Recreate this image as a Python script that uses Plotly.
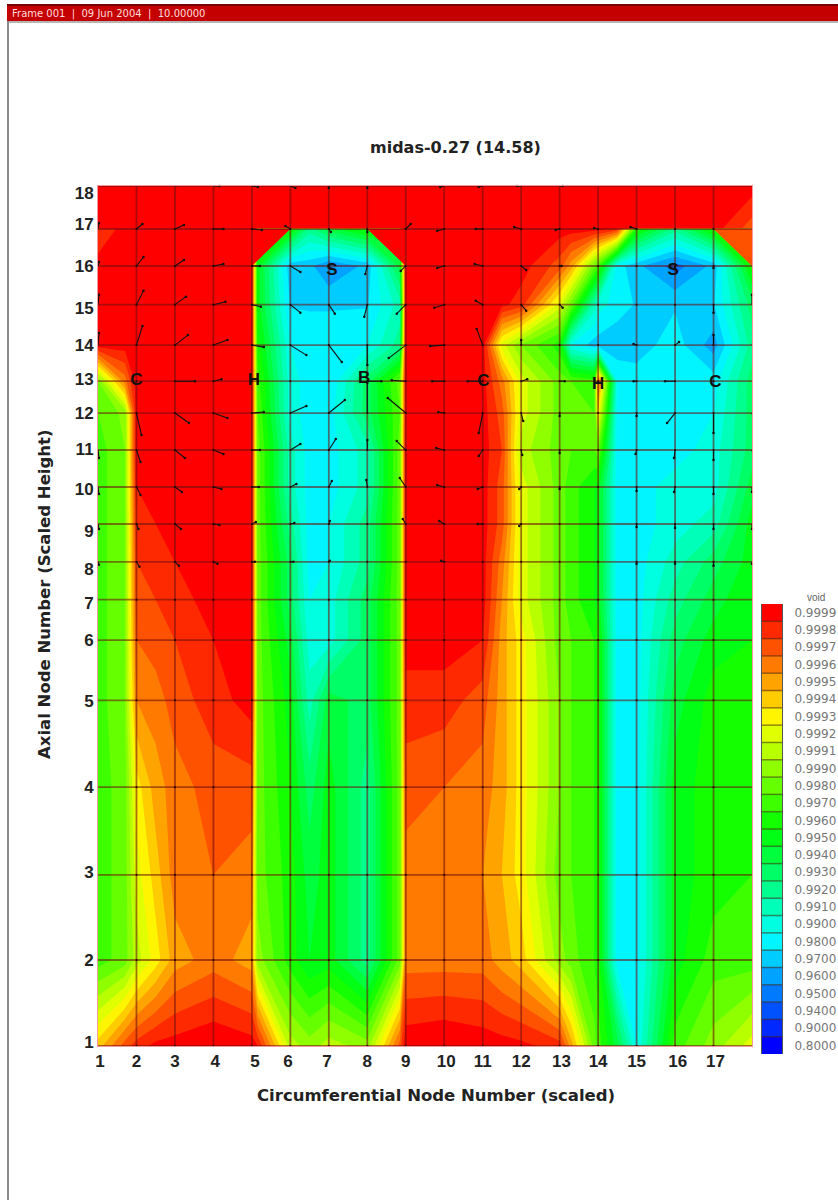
import colorsys
import numpy as np
import plotly.graph_objects as go

# ---------- data ----------
void_levels = [0.8000, 0.9000, 0.9400, 0.9500, 0.9600, 0.9700, 0.9800, 0.9900, 0.9910, 0.9920,
               0.9930, 0.9940, 0.9950, 0.9960, 0.9970, 0.9980, 0.9990, 0.9991, 0.9992, 0.9993,
               0.9994, 0.9995, 0.9996, 0.9997, 0.9998, 0.9999]
# circumferential positions of the contour nodes
node_x = [1, 1.7, 2, 2.5, 3, 4, 5, 5.15, 6, 6.5, 7, 8, 8.85, 9, 10, 11, 11.5, 12, 13, 13.3, 13.9, 14, 14.5, 15, 16, 17, 18]
# scaled height of every axial node (17 appears twice: the wall above the node is a step)
node_h = [0, .1, .199, .301, .402, .472, .519, .563, .607, .65, .693, .736, .773, .815, .862, .907, .95, .9512, 1.0]
# void deficit, (1 - void) * 10^4, bottom row first
deficit = [
 [6, 3, 2, 1.2, 1, .5, 1, 1.5, 9, 10, 9, 10, 3, .7, .4, .8, 1, 1.2, 2, 5, 20, 30, 60, 150, 30, 10, 8],
 [30, 20, 9, 7, 5, 4, 5, 10, 40, 55, 50, 80, 20, 4, 4, 4, 5, 6, 10, 20, 35, 40, 200, 200, 50, 30, 30],
 [30, 20, 8, 6, 4, 3.5, 4, 20, 40, 60, 50, 80, 20, 4, 4, 4.5, 5.5, 7, 20, 25, 35, 40, 200, 200, 50, 40, 35],
 [30, 20, 7, 5, 4, 3, 3, 20, 45, 70, 50, 80, 20, 3, 3.5, 4, 5, 7, 15, 25, 35, 40, 200, 200, 50, 40, 35],
 [30, 15, 4.5, 4, 3, 2, 1, 20, 50, 90, 60, 70, 20, 2, 2, 3, 5, 7, 15, 25, 35, 40, 200, 200, 60, 40, 40],
 [30, 15, 3.5, 3, 2.5, 1.5, 1, 20, 60, 100, 100, 70, 20, 1, 1, 1.5, 5, 7, 20, 25, 35, 40, 200, 200, 70, 50, 45],
 [30, 15, 3, 2.5, 2, 1, 1, 20, 70, 150, 100, 70, 20, 1, 1, 1, 4.5, 8, 20, 30, 45, 50, 200, 200, 80, 60, 45],
 [30, 15, 2.5, 2, 1.5, 1, 1, 20, 70, 200, 150, 80, 20, 1, 1, 1, 4, 8, 20, 30, 45, 50, 200, 200, 90, 70, 50],
 [30, 15, 2, 1.5, 1, 1, 1, 20, 80, 200, 150, 80, 20, 1, 1, 1, 3, 8, 20, 30, 45, 50, 200, 200, 100, 90, 50],
 [30, 15, 1.5, 1, 1, 1, 1, 20, 90, 200, 200, 90, 20, 1, 1, 1, 3, 8, 20, 30, 45, 50, 200, 200, 100, 100, 60],
 [30, 15, 1, 1, 1, 1, 1, 20, 90, 200, 200, 90, 20, 1, 1, 1, 2.5, 9, 20, 25, 25, 20, 200, 200, 200, 100, 70],
 [25, 12, 1, 1, 1, 1, 1, 25, 100, 200, 200, 70, 25, 1, 1, 1, 3, 8, 20, 25, 25, 7, 200, 200, 200, 150, 70],
 [15, 4, 1, 1, 1, 1, 1, 30, 100, 200, 250, 70, 20, 1, 1, 1, 4, 8, 20, 25, 30, 3, 150, 200, 200, 200, 70],
 [1, 1, 1, 1, 1, 1, 1, 40, 150, 200, 200, 150, 80, 1, 1, 1, 8, 15, 40, 150, 300, 300, 320, 300, 200, 400, 80],
 [1, 1, 1, 1, 1, 1, 1, 50, 260, 260, 260, 260, 90, 1, 1, 1, 1.2, 2, 8, 20, 90, 100, 200, 260, 260, 260, 70],
 [1, 1, 1, 1, 1, 1, 1, 50, 320, 320, 450, 320, 60, 1, 1, 1, 1, 1, 3, 5, 20, 30, 200, 320, 500, 320, 40],
 [2.5, 1, 1, 1, 1, 1, 1, 50, 40, 80, 60, 40, 50, 1, 1, 1, 1, 1, 1, 1, 1, 1, 2, 40, 80, 40, 40],
 [1, 1, 1, 1, 1, 1, 1, 1, 1, 1, 1, 1, 1, 1, 1, 1, 1, 1, 1, 1, 1, 1, 1, 1, 1, 1, 3],
 [1, 1, 1, 1, 1, 1, 1, 1, 1, 1, 1, 1, 1, 1, 1, 1, 1, 1, 1, 1, 1, 1, 1, 1, 1, 1, 1],
]
# cut-off dome corners (column, scaled height, band index of the wall behind)
corner_x = [[5, 6, 5], [9, 8, 9], [17, 18, 18]]
corner_h = [[.907, .95, .95], [.907, .95, .95], [.95, .907, .95]]
corner_band = [25, 25, 23]

# grid lines
grid_cols = list(range(2, 18))
grid_rows = list(range(1, 19))
row_h = [0, .1, .199, .301, .402, .472, .519, .563, .607, .65, .693, .736, .773, .815, .862, .907, .95, 1.0]

# tick labels
x_tick_labels = [str(i) for i in range(1, 18)]
x_tick_pos = [1.05, 2, 3, 4.05, 5.08, 5.94, 6.95, 8, 9, 10.05, 11, 12, 13.05, 14, 15, 16.07, 17.05]
y_tick_labels = [str(i) for i in range(1, 19)]
y_tick_pos = [.005, .1, .202, .301, .401, .472, .515, .555, .599, .648, .694, .736, .776, .815, .858, .907, .956, .992]

# site labels
site_text = ["C", "H", "B", "C", "H", "C", "S", "S"]
site_x = [2.0, 5.05, 7.92, 11.02, 14.0, 17.05, 7.08, 15.95]
site_h = [.773, .774, .776, .772, .769, .771, .901, .902]

# velocity vectors: column, row, u, v
arrows = [
 (2,18,2,4),(3,18,6,1),(4,18,6,0),(5,18,6,-1),(6,18,5,-2),(7,18,0,-2),(8,18,0,-2),(9,18,3,3),(10,18,-4,-1),(11,18,-4,-1),(12,18,-4,0),(13,18,3,0),
 (1,17,1,6),(2,17,6,5),(3,17,9,4),(4,17,10,0),(5,17,10,-1),(6,17,-5,3),(7,17,2,-3),(8,17,0,-3),(9,17,5,5),(10,17,-7,-2),(11,17,-7,0),(12,17,-7,2),(13,17,-4,-1),(14,17,-4,1),(15,17,-6,2),
 (1,16,1,4),(2,16,7,9),(3,16,9,6),(4,16,10,2),(5,16,8,0),(6,16,10,-6),(7,16,2,-3),(8,16,-2,-8),(9,16,-5,-5),(10,16,-7,-2),(11,16,-8,2),(12,16,5,-4),(13,16,2,0),(16,16,0,-2),(17,16,0,-2),
 (1,15,1,10),(2,15,7,14),(3,15,11,8),(4,15,12,3),(5,15,9,-2),(6,15,10,-8),(7,15,6,-9),(8,15,-3,-12),(9,15,-9,-9),(10,15,-10,-3),(11,15,-7,4),(12,15,5,-6),(13,15,3,-3),(17,15,0,-8),(18,15,0,10),
 (1,14,1,12),(2,14,6,19),(3,14,13,10),(4,14,14,5),(5,14,12,-2),(6,14,16,-10),(7,14,13,-17),(8,14,0,-20),(9,14,-17,-13),(10,14,-14,-1),(11,14,-6,16),(12,14,0,5),(15,14,-3,1),(16,14,4,3),(17,14,0,10),(18,14,3,8),
 (3,13,20,0),(4,13,8,2),(8,13,14,0),(9,13,-14,1),(10,13,-12,0),(11,13,-15,0),(12,13,6,2),(13,13,5,0),(15,13,-3,0),(16,13,-10,0),
 (2,12,5,-22),(3,12,14,-10),(4,12,14,-5),(5,12,12,1),(6,12,16,7),(7,12,16,13),(8,12,0,30),(9,12,-18,15),(10,12,-6,1),(11,12,-4,-20),(12,12,2,-8),(13,12,0,-3),(15,12,0,-3),(16,12,-8,-10),(17,12,0,-20),(18,12,3,-12),
 (1,11,1,-8),(2,11,4,-12),(3,11,10,-8),(4,11,10,-4),(5,11,8,0),(6,11,10,6),(7,11,7,11),(8,11,0,10),(9,11,-9,9),(10,11,-8,2),(11,11,-4,-6),(12,11,1,-5),(13,11,0,-3),(15,11,-1,-4),(16,11,-1,-8),(17,11,0,-10),(18,11,1,-5),
 (1,10,1,-7),(2,10,4,-8),(3,10,7,-5),(4,10,8,-2),(5,10,7,0),(6,10,6,3),(7,10,3,6),(8,10,-1,7),(9,10,-6,9),(10,10,-7,2),(11,10,-5,-2),(12,10,-2,-2),(13,10,0,-2),(15,10,0,-4),(16,10,-1,-5),(17,10,0,-7),(18,10,0,-5),
 (1,9,1,-5),(2,9,2,-5),(3,9,6,-5),(4,9,6,-1),(5,9,4,2),(6,9,4,1),(7,9,1,3),(9,9,-3,5),(10,9,-5,3),(11,9,-5,0),(12,9,-2,-2),(15,9,0,-3),(16,9,0,-4),(17,9,0,-5),(18,9,0,-5),
 (1,8,1,-3),(2,8,3,-5),(3,8,4,-4),(4,8,4,-2),(5,8,3,0),(6,8,3,0),(7,8,1,1),(10,8,-3,1),(15,8,0,-2),(16,8,0,-2),(17,8,0,-4),(18,8,0,-2),
]

level_labels = [f"{v:.4f}" for v in void_levels]
title_text = "midas-0.27 (14.58)"
x_title = "Circumferential Node Number (scaled)"
y_title = "Axial Node Number (Scaled Height)"
frame_text = "Frame 001  |  09 Jun 2004  |  10.00000"

# ---------- geometry of the page ----------
W, H = 838, 1200
L, R, T, B = 98, 752, 186, 1046
px = lambda v: v / W
py = lambda v: 1 - v / H

# ---------- colours ----------
n_band = len(void_levels)
def band_colour(i):
    r, g, b = colorsys.hsv_to_rgb((240 - i * 240 / (n_band - 1)) / 360, 1, 1)
    return f"rgb({round(r*255)},{round(g*255)},{round(b*255)})"
colorscale = []
for i in range(n_band):
    colorscale += [[i / n_band, band_colour(i)], [(i + 1) / n_band, band_colour(i)]]

void = 1 - np.array(deficit, dtype=float) * 1e-4
band_z = np.interp(void, void_levels + [1.0], np.arange(n_band + 1))

fig = go.Figure()
fig.add_trace(go.Contour(
    x=node_x, y=node_h, z=band_z,
    contours=dict(start=0.5, end=n_band - 1.5, size=1, coloring="fill", showlines=False),
    colorscale=colorscale, line=dict(width=0, smoothing=0), showscale=False, hoverinfo="skip",
))
for cx, ch, cb in zip(corner_x, corner_h, corner_band):
    fig.add_trace(go.Scatter(x=cx, y=ch, mode="lines", fill="toself", fillcolor=band_colour(cb),
                             line=dict(width=0), hoverinfo="skip", showlegend=False))

# mesh lines
grid_colour = "rgba(110,15,15,0.58)"
for c in grid_cols:
    fig.add_trace(go.Scatter(x=[c, c], y=[0, 1], mode="lines", line=dict(color=grid_colour, width=1.8),
                             hoverinfo="skip", showlegend=False))
for r in grid_rows:
    h = row_h[r - 1]
    end = 18.2 if r == 13 else 18
    fig.add_trace(go.Scatter(x=[1, end], y=[h, h], mode="lines", cliponaxis=False,
                             line=dict(color=grid_colour, width=1.8),
                             hoverinfo="skip", showlegend=False))

# node dots
gx, gy = np.meshgrid(np.arange(2, 18), row_h[:-1])
fig.add_trace(go.Scatter(x=gx.ravel(), y=gy.ravel(), mode="markers", marker=dict(size=2, color="#200000"),
                         hoverinfo="skip", showlegend=False))

# vectors
ax, ay, ex, ey = [], [], [], []
for c, r, u, v in arrows:
    h = row_h[r - 1]
    x1, y1 = c + u / ((R - L) / 17), h + v / (B - T)
    ax += [c, x1, None]
    ay += [h, y1, None]
    ex.append(x1)
    ey.append(y1)
fig.add_trace(go.Scatter(x=ax, y=ay, mode="lines", line=dict(color="#111111", width=1.1), cliponaxis=False,
                         hoverinfo="skip", showlegend=False))
fig.add_trace(go.Scatter(x=ex, y=ey, mode="markers", marker=dict(size=2.5, color="#111111"), cliponaxis=False,
                         hoverinfo="skip", showlegend=False))

# site labels
fig.add_trace(go.Scatter(x=site_x, y=site_h, mode="text", text=site_text, cliponaxis=False,
                         textfont=dict(family="Liberation Sans", size=17, color="#101010", weight="bold"),
                         textposition="middle center", hoverinfo="skip", showlegend=False))

# level key
key_bands = list(range(n_band))
fig.add_trace(go.Heatmap(
    x=[0], y=key_bands, z=[[b] for b in key_bands], xaxis="x2", yaxis="y2",
    zmin=-0.5, zmax=n_band - 0.5, colorscale=colorscale, showscale=False, hoverinfo="skip",
))
key_x, key_y = [], []
for b in key_bands[:-1]:
    key_x += [-0.5, 0.5, None]
    key_y += [b + 0.5, b + 0.5, None]
fig.add_trace(go.Scatter(x=key_x, y=key_y, xaxis="x2", yaxis="y2", mode="lines",
                         line=dict(color="rgba(70,40,20,0.55)", width=1.5),
                         hoverinfo="skip", showlegend=False))

title_font = dict(family="DejaVu Sans", size=16.5, color="#222222", weight="bold")
tick_font = dict(family="Liberation Sans", size=17, color="#222222", weight="bold")
fig.update_layout(
    width=W, height=H, autosize=False, showlegend=False,
    paper_bgcolor="white", plot_bgcolor="white",
    margin=dict(l=0, r=0, t=0, b=0, pad=0),
    xaxis=dict(domain=[px(L), px(R)], range=[1, 18], tickmode="array", tickvals=x_tick_pos, ticktext=x_tick_labels,
               tickfont=tick_font, showgrid=False, zeroline=False, ticks="", ticklen=0, automargin=False,
               showline=True, mirror=True, linecolor="#f49a9a", linewidth=1),
    yaxis=dict(domain=[py(B), py(T)], range=[0, 1], tickmode="array", tickvals=y_tick_pos, ticktext=y_tick_labels,
               tickfont=tick_font, showgrid=False, zeroline=False, ticks="", ticklen=0, automargin=False,
               showline=True, mirror=True, linecolor="#f49a9a", linewidth=1),
    xaxis2=dict(domain=[px(762), px(782)], range=[-0.5, 0.5], anchor="y2", visible=False),
    yaxis2=dict(domain=[py(1054), py(604)], range=[-0.5, n_band - 0.5], anchor="x2", side="right", automargin=False,
                tickmode="array", tickvals=key_bands, ticktext=level_labels,
                ticks="outside", ticklen=9, tickcolor="rgba(0,0,0,0)", showgrid=False, zeroline=False,
                showline=True, mirror=True, linecolor="#555555", linewidth=1,
                tickfont=dict(family="DejaVu Sans", size=12, color="#777777")),
    shapes=[
        dict(type="rect", xref="paper", yref="paper", x0=px(7), x1=px(838), y0=py(21), y1=py(4),
             fillcolor="#c40000", line=dict(width=0), layer="below"),
        dict(type="rect", xref="paper", yref="paper", x0=px(7), x1=px(838), y0=py(6), y1=py(4),
             fillcolor="#7a0000", line=dict(width=0), layer="below"),
        dict(type="rect", xref="paper", yref="paper", x0=px(7), x1=px(838), y0=py(23), y1=py(21),
             fillcolor="#b5b5b5", line=dict(width=0), layer="below"),
        dict(type="rect", xref="paper", yref="paper", x0=px(7), x1=px(9), y0=py(1200), y1=py(21),
             fillcolor="#8a8a8a", line=dict(width=0), layer="below"),
    ],
    annotations=[
        dict(text=title_text, xref="paper", yref="paper", x=px(455), y=py(148), xanchor="center", yanchor="middle",
             showarrow=False, font=dict(family="DejaVu Sans", size=16, color="#222222", weight="bold")),
        dict(text=x_title, xref="paper", yref="paper", x=px(436), y=py(1095), xanchor="center", yanchor="middle",
             showarrow=False, font=title_font),
        dict(text=y_title, xref="paper", yref="paper", x=px(44), y=py(594), xanchor="center", yanchor="middle",
             textangle=-90, showarrow=False, font=title_font),
        dict(text=frame_text, xref="paper", yref="paper", x=px(10), y=py(14), xanchor="left", yanchor="middle",
             showarrow=False, font=dict(family="DejaVu Sans", size=10, color="#ffdddd")),
        dict(text="void", xref="paper", yref="paper", x=px(816), y=py(597), xanchor="center", yanchor="middle",
             showarrow=False, font=dict(family="Liberation Sans", size=10, color="#666666")),
    ],
)
fig.write_html("out.html", config=dict(displayModeBar=False), post_script="document.body.style.margin='0';")
